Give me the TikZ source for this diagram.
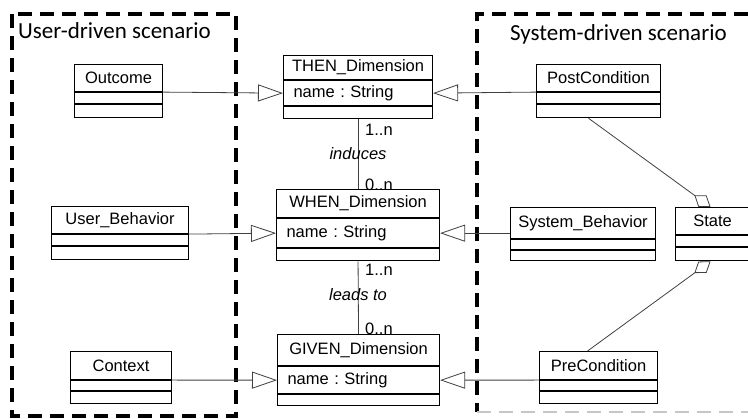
\documentclass[tikz,border=0pt]{standalone}
\usepackage{fontspec}
\setmainfont{Liberation Sans}
\newfontfamily\scenfont{Carlito}
\usetikzlibrary{arrows.meta}

\begin{document}
\begin{tikzpicture}[
    x=1pt, y=-1pt,
    every node/.style={font=\fontsize{16.5}{19}\selectfont\frenchspacing},
    clsbox/.style 2 args={draw, line width=1.1pt, anchor=north west, inner sep=0pt, minimum width=#1, minimum height=#2},
    clsattr/.style 2 args={draw, line width=1.1pt, anchor=north west, inner ysep=0pt, inner xsep=10pt, text width=#1, align=left, minimum height=#2},
    mult/.style={anchor=west, inner sep=0pt},
    role/.style={inner sep=0pt, font=\fontsize{16.5}{19}\selectfont\itshape},
    scenbox/.style={line width=3.5pt, dash pattern=on 14pt off 8pt},
    scentitle/.style={anchor=base west, inner sep=0pt, font=\scenfont\fontsize{23}{27}\selectfont},
    inherit/.style={draw=black!75, line width=0.8pt, -{Triangle[length=25pt, width=17pt, fill=white]}},
    aggr/.style={draw=black!75, line width=0.8pt, -{Diamond[length=20pt, width=14pt, fill=white]}},
    assoc/.style={draw=black!75, line width=0.8pt}
]
\useasboundingbox (0,0) rectangle (748,419);
\clip (0,0) rectangle (748,419);

% Scenario frames
\draw[scenbox] (12,14) rectangle (236,416);
\draw[scenbox] (770,14) -- (477,14) -- (477,412);
\draw[scenbox, gray!45, line width=2.5pt] (477,412) -- (770,412);
\node[scentitle] (usertitle) at (18,39) {User-driven scenario};
\node[scentitle] (systitle) at (510,41) {System-driven scenario};

% --- User side
\node[clsbox={88pt}{27pt}] (outcome) at (74,64) {Outcome};
\node[clsbox={88pt}{11pt}] (outcome-a) at (outcome.south west) {};
\node[clsbox={88pt}{13pt}] (outcome-b) at (outcome-a.south west) {};

\node[clsbox={137pt}{27pt}] (userb) at (51,206) {User\_Behavior};
\node[clsbox={137pt}{11pt}] (userb-a) at (userb.south west) {};
\node[clsbox={137pt}{13pt}] (userb-b) at (userb-a.south west) {};

\node[clsbox={101pt}{28pt}] (context) at (70,351) {Context};
\node[clsbox={101pt}{10pt}] (context-a) at (context.south west) {};
\node[clsbox={101pt}{12pt}] (context-b) at (context-a.south west) {};

% --- Dimensions
\node[clsbox={149pt}{24pt}] (then) at (283,55) {THEN\_Dimension};
\node[clsattr={129pt}{25pt}] (then-a) at (then.south west) {name : String};
\node[clsbox={149pt}{12pt}] (then-b) at (then-a.south west) {};

\node[clsbox={163pt}{28pt}] (when) at (276,189) {WHEN\_Dimension};
\node[clsattr={143pt}{29pt}] (when-a) at (when.south west) {name : String};
\node[clsbox={163pt}{12pt}] (when-b) at (when-a.south west) {};

\node[clsbox={162pt}{31pt}] (given) at (277,334) {GIVEN\_Dimension};
\node[clsattr={142pt}{27pt}] (given-a) at (given.south west) {name : String};
\node[clsbox={162pt}{11pt}] (given-b) at (given-a.south west) {};

% --- System side
\node[clsbox={124pt}{27pt}] (post) at (536,64) {PostCondition};
\node[clsbox={124pt}{11pt}] (post-a) at (post.south west) {};
\node[clsbox={124pt}{13pt}] (post-b) at (post-a.south west) {};

\node[clsbox={145pt}{31pt}] (sysb) at (510,207) {System\_Behavior};
\node[clsbox={145pt}{10pt}] (sysb-a) at (sysb.south west) {};
\node[clsbox={145pt}{10pt}] (sysb-b) at (sysb-a.south west) {};

\node[clsbox={95pt}{27pt}] (state) at (675,207) {\hspace*{-21pt}State};
\node[clsbox={95pt}{11pt}] (state-a) at (state.south west) {};
\node[clsbox={95pt}{13pt}] (state-b) at (state-a.south west) {};

\node[clsbox={118pt}{28pt}] (pre) at (539,351) {PreCondition};
\node[clsbox={118pt}{10pt}] (pre-a) at (pre.south west) {};
\node[clsbox={118pt}{12pt}] (pre-b) at (pre-a.south west) {};

% Generalizations
\draw[inherit] (outcome-a.north east) -- (then-a.west);
\draw[inherit] (userb-a.north east) -- (when-a.west);
\draw[inherit] (context-a.north east) -- (given-a.west);
\draw[inherit] (post-a.north west) -- (then-a.east);
\draw[inherit] (sysb.west |- when-a.east) -- (when-a.east);
\draw[inherit] (pre-a.north west) -- (given-a.east);

% Associations between dimensions
\draw[assoc] (then-b.south) -- (when.north);
\draw[assoc] (when-b.south) -- (given.north);
\node[mult] (m1) at (365,130) {1..n};
\node[role] (induces) at (358,154) {induces};
\node[mult] (m2) at (365,185) {0..n};
\node[mult] (m3) at (365,270) {1..n};
\node[role] (leads) at (358,295) {leads to};
\node[mult] (m4) at (365,329) {0..n};

% Aggregations to State
\draw[aggr] ([xshift=-10pt]post-b.south) -- ([xshift=-12.5pt]state.north);
\draw[aggr] ([xshift=-11pt]pre.north) -- ([xshift=-12.5pt]state-b.south);
\end{tikzpicture}
\end{document}
